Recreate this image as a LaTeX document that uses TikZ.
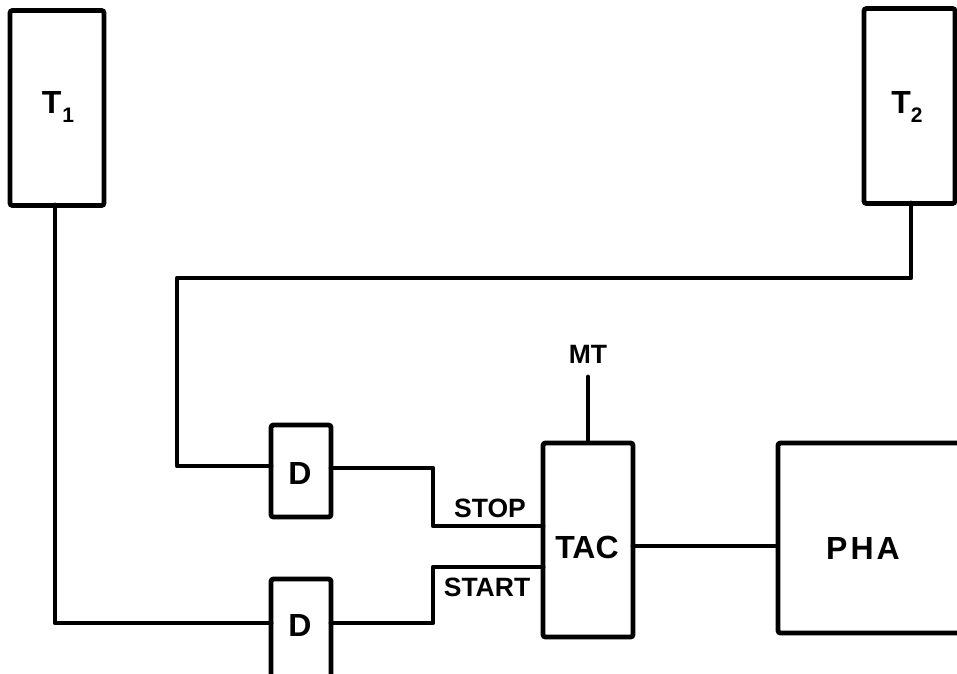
\documentclass[tikz,border=0pt]{standalone}
\usepackage{fontspec}
\setmainfont{Liberation Sans}
\begin{document}
\begin{tikzpicture}[x=1pt,y=-1pt,line width=4.8pt,
  blk/.style={draw,rounded corners=2.5pt,inner sep=0pt},
  lbl/.style={font=\fontsize{32}{32}\selectfont\bfseries,inner sep=0pt},
  slbl/.style={font=\fontsize{26.5}{26.5}\selectfont\bfseries,inner sep=0pt},
  wire/.style={line join=round,line cap=round}]
\useasboundingbox (0,0) rectangle (957,673);
\clip (0,0) rectangle (957,673);
% boxes
\node[blk,minimum width=94pt,minimum height=195pt] (T1) at (57,108) {};
\node[blk,minimum width=91pt,minimum height=195pt] (T2) at (909.5,106) {};
\node[blk,minimum width=60pt,minimum height=92pt] (D1) at (301,471) {};
\node[blk,minimum width=60pt,minimum height=111pt] (D2) at (301,634.5) {};
\node[blk,minimum width=90pt,minimum height=194pt] (TAC) at (588,540) {};
\node[blk,minimum width=230pt,minimum height=190pt] (PHA) at (893,538) {};
% labels
\node[lbl] (t1l) at (58,107) {T\kern1pt\raisebox{-9pt}{\fontsize{21}{21}\selectfont 1}};
\node[lbl] (t2l) at (907,107) {T\kern0pt\raisebox{-9pt}{\fontsize{21}{21}\selectfont 2}};
\node[lbl] (d1l) at (300,473) {D};
\node[lbl] (d2l) at (300,625) {D};
\node[lbl] (tacl) at (587,547) {TAC};
\node[lbl] (phal) at (863,548) {P\kern3pt H\kern3pt A};
\node[slbl] (MT) at (588,354) {MT};
\node[slbl] (stopl) at (490,508) {STOP};
\node[slbl] (startl) at (487,587) {START};
% coordinates
\coordinate (c1) at (177,278);
\coordinate (d1in) at (271,466);
\coordinate (d1out) at (331,468);
\coordinate (d2in) at (271,623);
\coordinate (d2out) at (331,623);
\coordinate (k1) at (433,468);
\coordinate (k2) at (433,623);
\coordinate (stopin) at (543,526);
\coordinate (startin) at (543,567);
\coordinate (tacout) at (633,546);
\coordinate (t1d) at (55,205);
\coordinate (t2d) at (911,203);
\coordinate (mtb) at (588,377);
% wires
\draw[wire] (t1d) |- (d2in);
\draw[wire] (t2d) |- (c1) |- (d1in);
\draw[wire] (d1out) -- (k1) |- (stopin);
\draw[wire] (d2out) -- (k2) |- (startin);
\draw[wire] (tacout) -- (tacout -| PHA.west);
\draw[wire] (TAC.north) -- (mtb);
\end{tikzpicture}
\end{document}
